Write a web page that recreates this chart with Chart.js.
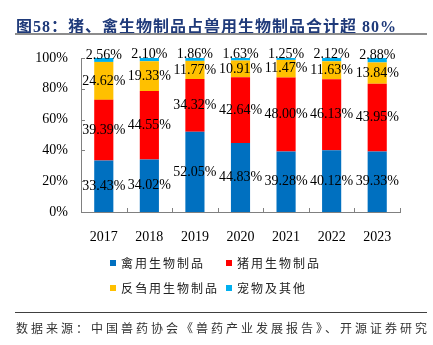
<!DOCTYPE html>
<html lang="zh">

<head>
    <meta charset="UTF-8">
    <title>猪、禽生物制品占兽用生物制品合计超80%</title>
    <style>
        body { margin: 0; background: #fff; }
        #wrap { position: relative; width: 433px; height: 345px; overflow: hidden; }
        #chartBox { position: absolute; left: 0; top: 0; width: 433px; height: 345px; }
        .title {
            position: absolute; left: 16px; top: 13px; height: 18px; line-height: 18px;
            font: bold 16px "Liberation Serif", "Noto Sans CJK SC", serif;
            letter-spacing: 1px; color: #1f3a7a; white-space: nowrap;
        }
        .rule1 { position: absolute; left: 15px; top: 33px; width: 412px; height: 2px; background: #8c8c8c; }
        .rule2 { position: absolute; left: 15px; top: 312px; width: 412px; height: 1px; background: #404040; }
        .source {
            position: absolute; left: 16px; top: 319px; line-height: 16px;
            font: 12px "Noto Sans CJK SC", sans-serif; letter-spacing: 3px; color: #333; white-space: nowrap;
        }
        .leg {
            position: absolute; line-height: 14px; white-space: nowrap;
            font: 12px "Noto Sans CJK SC", sans-serif; letter-spacing: 2px; color: #222;
        }
        .leg i { display: inline-block; width: 6px; height: 6px; margin-right: 5px; vertical-align: 2px; }
    </style>
</head>

<body>
    <div id="wrap">
        <div id="chartBox"><canvas id="myChart"></canvas></div>
        <div class="title">图58：猪、禽生物制品占兽用生物制品合计超 80%</div>
        <div class="rule1"></div>
        <div id="legend"></div>
        <div class="rule2"></div>
        <div class="source">数据来源：中国兽药协会《兽药产业发展报告》、开源证券研究</div>
    </div>

    <script src="https://cdn.jsdelivr.net/npm/chart.js/dist/chart.umd.min.js"></script>
    <script>
        const years = ['2017', '2018', '2019', '2020', '2021', '2022', '2023'];
        const poultry = [33.43, 34.02, 52.05, 44.83, 39.28, 40.12, 39.33];
        const pig = [39.39, 44.55, 34.32, 42.64, 48.00, 46.13, 43.95];
        const ruminant = [24.62, 19.33, 11.77, 10.91, 11.47, 11.63, 13.84];
        const petOther = [2.56, 2.10, 1.86, 1.63, 1.25, 2.12, 2.88];
        const seriesNames = ['禽用生物制品', '猪用生物制品', '反刍用生物制品', '宠物及其他'];
        const yTicks = [0, 20, 40, 60, 80, 100];

        const colors = ['#0070c0', '#ff0000', '#ffc000', '#00b0f0'];
        const axisColor = '#808080';

        // legend, 2 x 2 grid like the report
        const legPos = [[110, 254], [226, 254], [110, 279], [226, 279]];
        document.getElementById('legend').innerHTML = seriesNames.map(function (n, i) {
            return '<div class="leg" style="left:' + legPos[i][0] + 'px;top:' + legPos[i][1] + 'px">' +
                '<i style="background:' + colors[i] + '"></i>' + n + '</div>';
        }).join('');

        // value labels in the middle of each segment
        const valueLabels = {
            id: 'valueLabels',
            afterDatasetsDraw(chart) {
                const ctx = chart.ctx;
                ctx.save();
                ctx.font = '14px "Liberation Serif", serif';
                ctx.fillStyle = '#000';
                ctx.textAlign = 'center';
                ctx.textBaseline = 'middle';
                chart.data.datasets.forEach(function (ds, di) {
                    chart.getDatasetMeta(di).data.forEach(function (bar, i) {
                        let y = (bar.y + bar.base) / 2;
                        if (di === 3) y -= 5;
                        ctx.fillText(ds.data[i].toFixed(2) + '%', bar.x, y);
                    });
                });
                ctx.restore();
            }
        };

        // small inward tick marks on both axes
        const innerTicks = {
            id: 'innerTicks',
            afterDraw(chart) {
                const ctx = chart.ctx, x = chart.scales.x, y = chart.scales.y;
                ctx.save();
                ctx.strokeStyle = axisColor;
                ctx.lineWidth = 1;
                ctx.beginPath();
                const step = x.getPixelForValue(1) - x.getPixelForValue(0);
                for (let i = 0; i <= years.length; i++) {
                    const px = Math.round(x.getPixelForValue(0) - step / 2 + i * step) + 0.5;
                    ctx.moveTo(px, y.bottom);
                    ctx.lineTo(px, y.bottom - 4);
                }
                yTicks.forEach(function (v) {
                    const py = Math.round(y.getPixelForValue(v)) + 0.5;
                    ctx.moveTo(x.left, py);
                    ctx.lineTo(x.left + 4, py);
                });
                ctx.stroke();
                ctx.restore();
            }
        };

        const config = {
            type: 'bar',
            data: {
                labels: years,
                datasets: [poultry, pig, ruminant, petOther].map(function (d, i) {
                    return {
                        label: seriesNames[i],
                        data: d,
                        backgroundColor: colors[i],
                        categoryPercentage: 1,
                        barPercentage: 0.42
                    };
                })
            },
            options: {
                responsive: true,
                maintainAspectRatio: false,
                animation: false,
                layout: { padding: { left: 0, right: 33, top: 58, bottom: 100 } },
                plugins: {
                    legend: { display: false },
                    tooltip: { enabled: false }
                },
                scales: {
                    x: {
                        stacked: true,
                        grid: { display: false },
                        border: { color: axisColor },
                        ticks: {
                            color: '#000',
                            padding: 9,
                            font: { family: '"Liberation Serif", serif', size: 14 }
                        },
                        afterFit(scale) { scale.height = 33; }
                    },
                    y: {
                        stacked: true,
                        min: 0,
                        max: 100,
                        grid: { display: false, drawTicks: false },
                        border: { color: axisColor },
                        ticks: {
                            stepSize: 20,
                            color: '#000',
                            padding: 13,
                            font: { family: '"Liberation Serif", serif', size: 14 },
                            callback: function (v) { return v + '%'; }
                        },
                        afterFit(scale) { scale.width = 81; }
                    }
                }
            },
            plugins: [valueLabels, innerTicks]
        };

        const myChart = new Chart(document.getElementById('myChart'), config);
    </script>
</body>

</html>
